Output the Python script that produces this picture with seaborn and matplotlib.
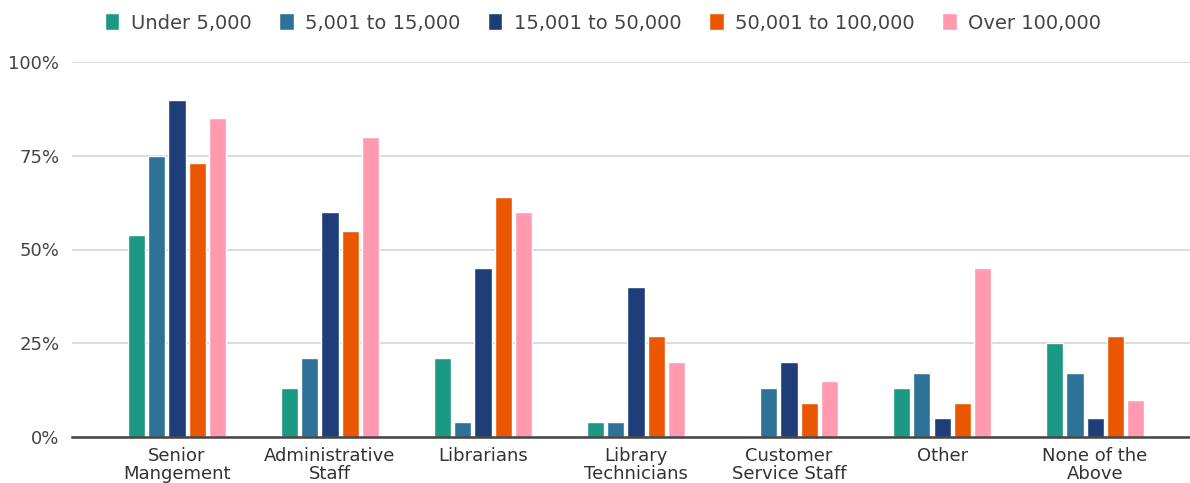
import numpy as np
import pandas as pd
import matplotlib
matplotlib.use('Agg')
import matplotlib.pyplot as plt
import seaborn as sns
import matplotlib.ticker as ticker

categories = ['Senior\nMangement', 'Administrative\nStaff', 'Librarians', 'Library\nTechnicians',
              'Customer\nService Staff', 'Other', 'None of the\nAbove']
series = ['Under 5,000', '5,001 to 15,000', '15,001 to 50,000', '50,001 to 100,000', 'Over 100,000']

under_5k = [54, 13, 21, 4, 0, 13, 25]
k5_15 = [75, 21, 4, 4, 13, 17, 17]
k15_50 = [90, 60, 45, 40, 20, 5, 5]
k50_100 = [73, 55, 64, 27, 9, 9, 27]
over_100k = [85, 80, 60, 20, 15, 45, 10]

colors = ['#1b9985', '#2e7199', '#1f3d78', '#eb5700', '#ff9ab0']

rows = []
for s, vals in zip(series, [under_5k, k5_15, k15_50, k50_100, over_100k]):
    for c, v in zip(categories, vals):
        rows.append({'cat': c, 'group': s, 'pct': v})
df = pd.DataFrame(rows)

sns.set_style('white')
plt.rcParams['font.family'] = ['DejaVu Sans']

fig = plt.figure(figsize=(11.9, 4.83), dpi=100)
ax = fig.add_axes([72 / 1190, 46 / 483, 1 - 72 / 1190, (437 - 62) / 483])

sns.barplot(data=df, x='cat', y='pct', hue='group', hue_order=series, order=categories,
            palette=colors, saturation=1, width=0.66, gap=0.15, ax=ax, legend=True)

ax.set_xlim(-0.686, 6.62)
ax.set_ylim(0, 100)
ax.yaxis.set_major_locator(ticker.FixedLocator([0, 25, 50, 75, 100]))
ax.yaxis.set_major_formatter(ticker.FuncFormatter(lambda v, p: '{:.0f}%'.format(v)))
ax.grid(axis='y', color='#d4d4d4', linewidth=1.2)
ax.set_axisbelow(True)
for sp in ['top', 'right', 'left']:
    ax.spines[sp].set_visible(False)
ax.spines['bottom'].set_color('#444444')
ax.spines['bottom'].set_linewidth(1.8)
ax.tick_params(axis='y', length=0, labelsize=13, labelcolor='#444444', pad=9)
ax.tick_params(axis='x', length=0, labelsize=13, labelcolor='#333333', pad=7)
for lab in ax.get_xticklabels():
    lab.set_linespacing(1.0)
ax.set_xlabel('')
ax.set_ylabel('')

h, l = ax.get_legend_handles_labels()
ax.legend(h, l, loc='center', bbox_to_anchor=(0.475, 1.104), ncol=5, frameon=False,
          fontsize=14, handlelength=0.75, handleheight=0.95, handletextpad=0.6, columnspacing=1.4,
          labelcolor='#444444')

fig.savefig('out.png', dpi=100)
